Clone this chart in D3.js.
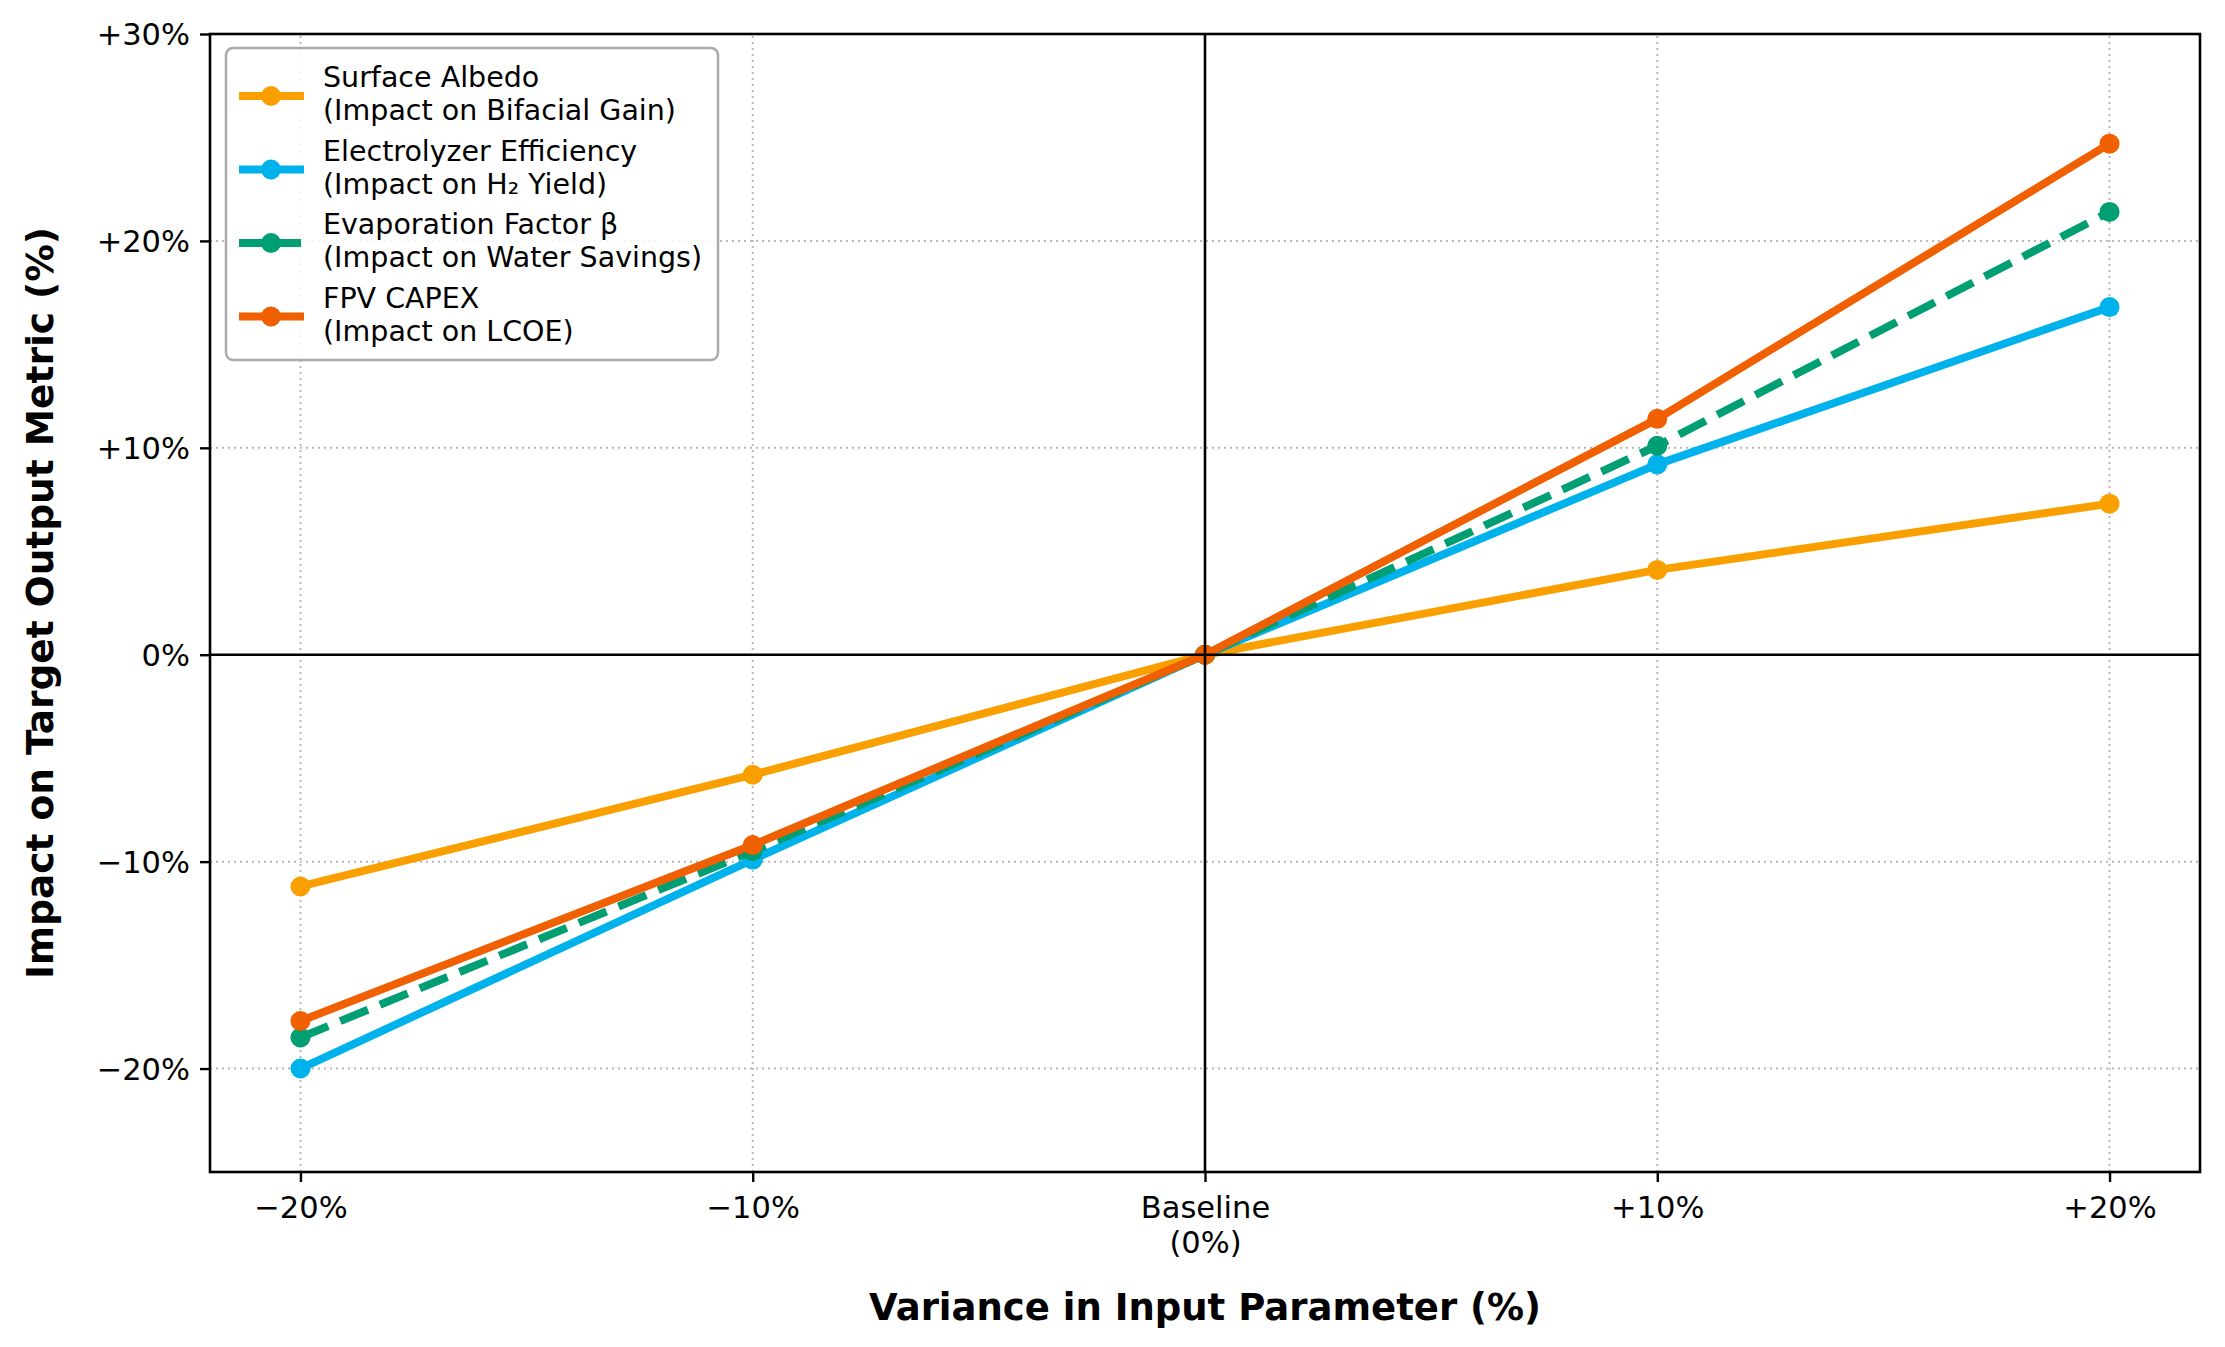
<!DOCTYPE html>
<html>
<head>
<meta charset="utf-8">
<script src="https://cdn.jsdelivr.net/npm/d3@7"></script>
<style>
    body { margin: 0; background: #fff; }
    text { font-family: "DejaVu Sans", sans-serif; fill: #000; }
</style>
</head>
<body>
<script>
// Input variance steps and their tick labels
const variance = [-20, -10, 0, 10, 20];
const xTickLabels = [["\u221220%"], ["\u221210%"], ["Baseline", "(0%)"], ["+10%"], ["+20%"]];
const yTicks = [-20, -10, 0, 10, 20, 30];
const yTickLabels = ["\u221220%", "\u221210%", "0%", "+10%", "+20%", "+30%"];

// Impact on target metric (%) per series
const albedo = [-11.2, -5.8, 0, 4.1, 7.3];
const electrolyzer = [-20.0, -9.9, 0, 9.2, 16.8];
const evaporation = [-18.5, -9.5, 0, 10.1, 21.4];
const capex = [-17.7, -9.2, 0, 11.4, 24.7];

const seriesNames = [
    ["Surface Albedo", "(Impact on Bifacial Gain)"],
    ["Electrolyzer Efficiency", "(Impact on H\u2082 Yield)"],
    ["Evaporation Factor \u03b2", "(Impact on Water Savings)"],
    ["FPV CAPEX", "(Impact on LCOE)"]
];
const seriesValues = [albedo, electrolyzer, evaporation, capex];
const seriesColors = ["#F9A000", "#00B2EC", "#009E73", "#F06000"];
const seriesDash = [null, null, "30,13", null];

function drawChart() {
    // Declare the chart dimensions and margins.
    const width = 2225;
    const height = 1347;
    const margin = {top: 34, right: 25, bottom: 175, left: 210};

    const svg = d3.select("body").append("svg")
        .attr("width", width)
        .attr("height", height);

    const x = d3.scaleLinear()
        .domain([-22, 22])
        .range([margin.left, width - margin.right]);

    const y = d3.scaleLinear()
        .domain([-25, 30])
        .range([height - margin.bottom, margin.top]);

    // Dotted grid
    const grid = svg.append("g")
        .attr("stroke", "#b8b8b8")
        .attr("stroke-width", 2)
        .attr("stroke-dasharray", "2,4");

    grid.selectAll("line.vx")
        .data(variance)
        .enter().append("line")
            .attr("x1", d => x(d)).attr("x2", d => x(d))
            .attr("y1", y(-25)).attr("y2", y(30));

    grid.selectAll("line.hy")
        .data(yTicks)
        .enter().append("line")
            .attr("x1", x(-22)).attr("x2", x(22))
            .attr("y1", d => y(d)).attr("y2", d => y(d));

    // Series lines and markers
    const line = d3.line()
        .x((d, i) => x(variance[i]))
        .y(d => y(d));

    seriesValues.forEach(function(values, s) {
        svg.append("path")
            .datum(values)
            .attr("fill", "none")
            .attr("stroke", seriesColors[s])
            .attr("stroke-width", 8)
            .attr("stroke-linejoin", "round")
            .attr("stroke-dasharray", seriesDash[s])
            .attr("d", line);

        svg.append("g")
            .selectAll("circle")
            .data(values)
            .enter().append("circle")
                .attr("cx", (d, i) => x(variance[i]))
                .attr("cy", d => y(d))
                .attr("r", 10)
                .attr("fill", seriesColors[s]);
    });

    // Zero reference lines on top
    svg.append("line")
        .attr("x1", x(-22)).attr("x2", x(22))
        .attr("y1", y(0)).attr("y2", y(0))
        .attr("stroke", "#000").attr("stroke-width", 2.6);
    svg.append("line")
        .attr("x1", x(0)).attr("x2", x(0))
        .attr("y1", y(-25)).attr("y2", y(30))
        .attr("stroke", "#000").attr("stroke-width", 2.6);

    // Axes
    const xAxis = svg.append("g")
        .attr("transform", `translate(0,${height - margin.bottom})`)
        .call(d3.axisBottom(x).tickValues(variance).tickSize(10).tickFormat(""));

    xAxis.selectAll(".tick").each(function(d, i) {
        const t = d3.select(this).append("text")
            .attr("text-anchor", "middle")
            .attr("font-size", 30.5)
            .attr("y", 46);
        xTickLabels[i].forEach(function(s, k) {
            t.append("tspan")
                .attr("x", 0)
                .attr("dy", k === 0 ? 0 : 35)
                .text(s);
        });
    });

    const yAxis = svg.append("g")
        .attr("transform", `translate(${margin.left},0)`)
        .call(d3.axisLeft(y).tickValues(yTicks).tickSize(10).tickPadding(10)
            .tickFormat((d, i) => yTickLabels[i]));

    yAxis.selectAll("text")
        .attr("font-size", 30.5)
        .attr("dy", "0.35em");

    svg.selectAll(".domain").remove();
    svg.selectAll(".tick line").attr("stroke", "#000").attr("stroke-width", 2.4);

    // Frame
    svg.append("rect")
        .attr("x", x(-22)).attr("y", y(30))
        .attr("width", x(22) - x(-22))
        .attr("height", y(-25) - y(30))
        .attr("fill", "none")
        .attr("stroke", "#000")
        .attr("stroke-width", 2.6);

    // Axis titles
    svg.append("text")
        .attr("x", x(0))
        .attr("y", 1320)
        .attr("text-anchor", "middle")
        .attr("font-size", 37)
        .attr("font-weight", "bold")
        .text("Variance in Input Parameter (%)");

    svg.append("text")
        .attr("transform", `translate(53,${(y(30) + y(-25)) / 2}) rotate(-90)`)
        .attr("text-anchor", "middle")
        .attr("font-size", 37.5)
        .attr("font-weight", "bold")
        .text("Impact on Target Output Metric (%)");

    // Legend
    const legend = svg.append("g");
    legend.append("rect")
        .attr("x", 226).attr("y", 48)
        .attr("width", 492).attr("height", 312)
        .attr("rx", 7)
        .attr("fill", "#fff")
        .attr("fill-opacity", 0.85)
        .attr("stroke", "#aaa")
        .attr("stroke-width", 2.5);

    const entry = legend.selectAll("g.entry")
        .data(seriesNames)
        .enter().append("g")
            .attr("transform", (d, i) => `translate(0,${96 + i * 73.5})`);

    entry.append("line")
        .attr("x1", 239).attr("x2", 304)
        .attr("stroke", (d, i) => seriesColors[i])
        .attr("stroke-width", 8)
        .attr("stroke-dasharray", (d, i) => seriesDash[i] ? "26,10" : null);

    entry.append("circle")
        .attr("cx", 271)
        .attr("r", 10)
        .attr("fill", (d, i) => seriesColors[i]);

    entry.each(function(d) {
        const t = d3.select(this).append("text")
            .attr("x", 323)
            .attr("font-size", 28.5);
        t.append("tspan").attr("x", 323).attr("y", -9).text(d[0]);
        t.append("tspan").attr("x", 323).attr("y", 24).text(d[1]);
    });
}

drawChart();
</script>
</body>
</html>
